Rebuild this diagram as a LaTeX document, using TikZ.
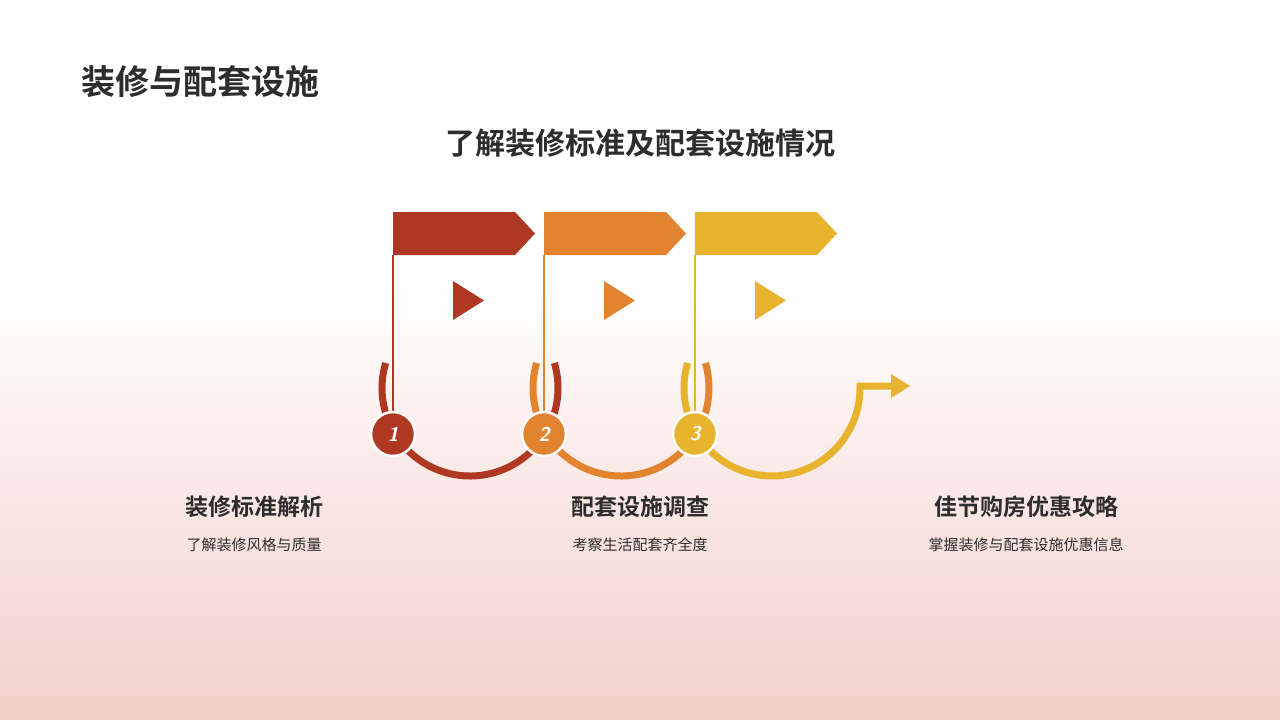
\documentclass[tikz,border=0pt]{standalone}
\usepackage{fontspec}
\newfontfamily\cjk{Noto Sans CJK SC}
\newfontfamily\cjkb{Noto Sans CJK SC Bold}
\usetikzlibrary{calc}
\definecolor{cA}{RGB}{175,56,34}
\definecolor{cB}{RGB}{226,131,48}
\definecolor{cC}{RGB}{232,180,46}
\definecolor{pinkbg}{RGB}{243,206,200}
\definecolor{txt}{RGB}{45,45,45}
\tikzset{
 flagbox/.style={fill=#1},
 arcline/.style={draw=#1,line width=7pt},
 numdot/.style={circle,fill=#1,draw=white,line width=2.5pt,minimum size=44pt,inner sep=0pt,text=white,font=\sffamily\bfseries\itshape\fontsize{20}{20}\selectfont},
 head/.style={font=\cjkb\fontsize{23}{26}\selectfont,text=txt},
 sub/.style={font=\cjk\fontsize{15}{18}\selectfont,text=txt}
}
\begin{document}
\begin{tikzpicture}[x=1pt,y=-1pt]
\useasboundingbox (0,0) rectangle (1280,720);
\fill[white] (0,0) rectangle (1280,290);
\shade[top color=white,bottom color=pinkbg] (0,289) rectangle (1280,720);
\node[anchor=west,font=\cjkb\fontsize{34}{38}\selectfont,text=txt] (title) at (78,82) {装修与配套设施};
\node[font=\cjkb\fontsize{30}{34}\selectfont,text=txt] (subt) at (640,143) {了解装修标准及配套设施情况};
\foreach \i/\c in {0/cA,1/cB,2/cC}{
 \begin{scope}[xshift=\i*151]
 \fill[\c] (393,212) -- (515,212) -- (535,233.5) -- (515,255) -- (393,255) -- cycle;
 \draw[\c,line width=2pt] (393,255) -- (393,420);
 \end{scope}}
\foreach \i/\c in {0/cA,1/cB}{
 \begin{scope}[xshift=\i*151]
 \draw[arcline=\c] (470,388) ++(196.5:88) arc[start angle=196.5,end angle=-16.5,radius=88];
 \fill[\c] (453,281) -- (484,300.5) -- (453,320) -- cycle;
 \end{scope}}
\begin{scope}[xshift=302]
 \draw[arcline=cC,line join=miter] (470,388) ++(196.5:88) arc[start angle=196.5,end angle=0,radius=88] -- (558,386) -- (592,386);
 \fill[cC] (453,281) -- (484,300.5) -- (453,320) -- cycle;
 \fill[cC] (589,374) -- (608,386) -- (589,398) -- cycle;
\end{scope}
\node[numdot=cA] (n1) at (393,434) {1};
\node[numdot=cB] (n2) at (544,434) {2};
\node[numdot=cC] (n3) at (695,434) {3};
\node[head] (h1) at (254,507) {装修标准解析};
\node[sub] (s1) at (254,545) {了解装修风格与质量};
\node[head] (h2) at (640,507) {配套设施调查};
\node[sub] (s2) at (640,545) {考察生活配套齐全度};
\node[head] (h3) at (1026,507) {佳节购房优惠攻略};
\node[sub] (s3) at (1026,545) {掌握装修与配套设施优惠信息};
\end{tikzpicture}
\end{document}
